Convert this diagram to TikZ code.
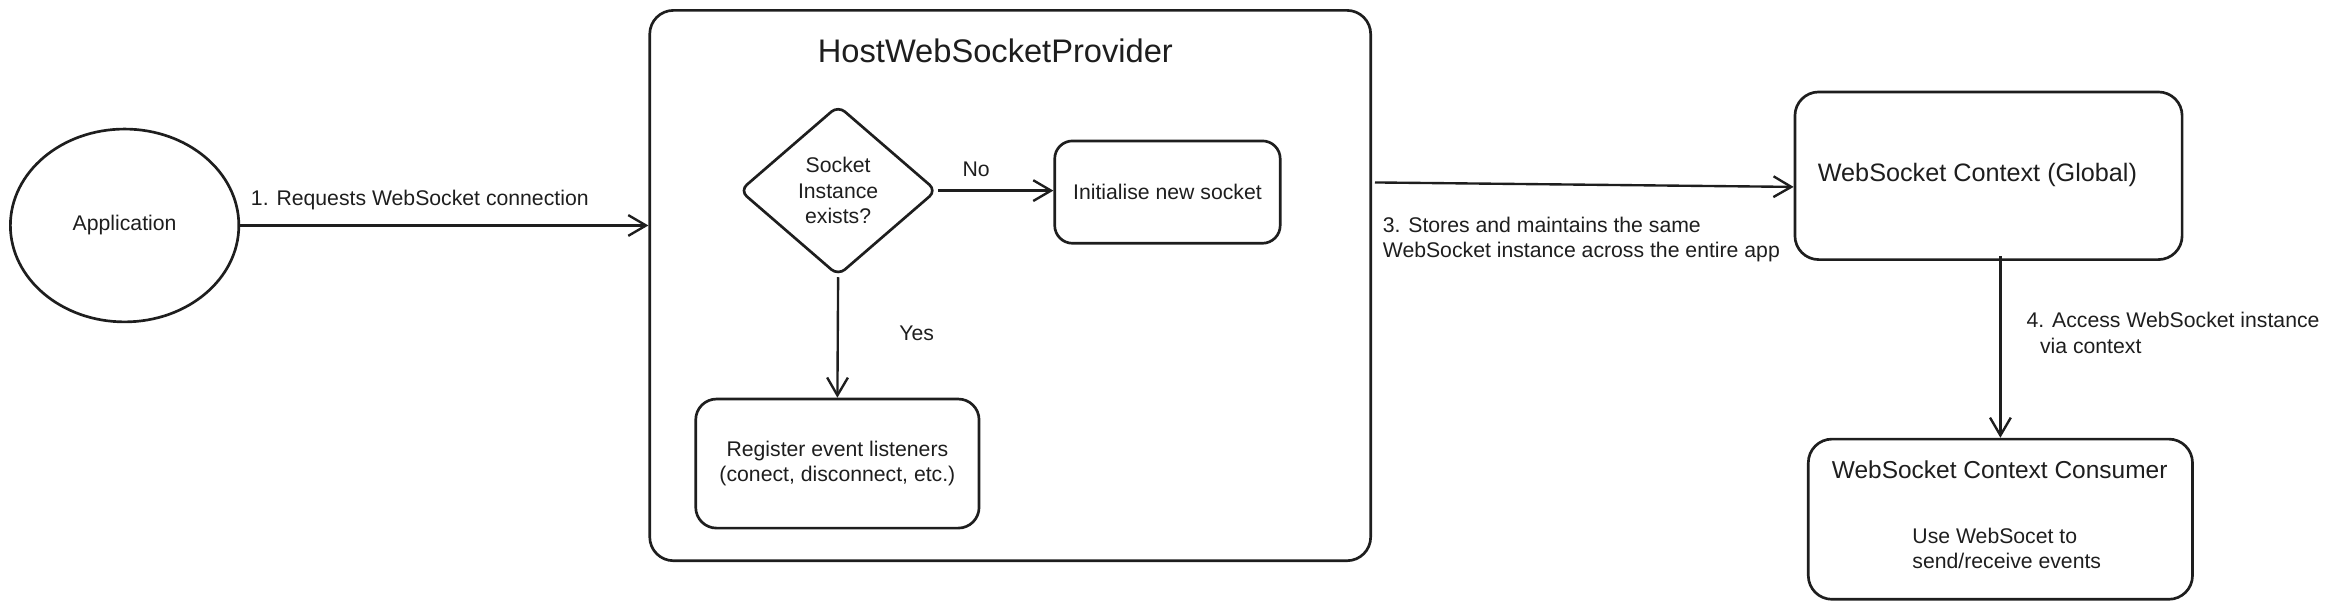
\documentclass[tikz,border=0pt]{standalone}
\usepackage{fontspec}
\setmainfont{Liberation Sans}
\usetikzlibrary{shapes.geometric,arrows.meta}
\definecolor{ink}{HTML}{1E1E1E}
\begin{document}
\begin{tikzpicture}[x=1pt,y=-1pt,
  every node/.style={text=ink,font=\fontsize{14.3}{17}\selectfont},
  box/.style={draw=ink,line width=1.8pt,rounded corners=12pt,inner sep=0pt,align=center},
  lbl/.style={inner sep=0pt},
  arr/.style={draw=ink,line width=1.6pt,-{Straight Barb[length=12pt,width=14pt,line width=1.6pt]}}]
\useasboundingbox (0,0) rectangle (1568,411);
% nodes
\node[draw=ink,line width=1.8pt,ellipse,minimum width=154pt,minimum height=130pt,inner sep=0pt] (app) at (84,152) {Application};
\node[box,rounded corners=16pt,minimum width=486pt,minimum height=371pt] (host) at (681,192.5) {};
\node[lbl,font=\fontsize{22}{25}\selectfont] (hosttitle) at (671,34) {HostWebSocketProvider};
\node[draw=ink,line width=1.8pt,diamond,rounded corners=6pt,minimum width=133pt,minimum height=115pt,inner sep=0pt,align=center] (dia) at (565,128.5) {Socket\\Instance\\exists?};
\node[box,minimum width=152pt,minimum height=69pt] (init) at (787,129.5) {Initialise new socket};
\node[box,rounded corners=14pt,minimum width=191pt,minimum height=87pt] (reg) at (564.5,312.5) {Register event listeners\\(conect, disconnect, etc.)};
\node[box,rounded corners=16pt,minimum width=261pt,minimum height=113pt] (ctx) at (1340.5,118.5) {};
\node[lbl,font=\fontsize{17}{20}\selectfont] (ctxtext) at (1333,118) {WebSocket Context (Global)};
\node[box,rounded corners=16pt,minimum width=259pt,minimum height=108pt] (cons) at (1348.5,350) {};
\node[lbl,font=\fontsize{16.5}{19}\selectfont] (constitle) at (1348,317) {WebSocket Context Consumer};
\node[lbl,anchor=west,align=left] (constext) at (1289,369.5) {Use WebSocet to\\send/receive events};
% labels
\node[lbl] (l1) at (283,135) {1. Requests WebSocket connection};
\node[lbl] (lno) at (658,114) {No};
\node[lbl] (lyes) at (618,225) {Yes};
\node[lbl,anchor=west,align=left] (l3) at (932,161.5) {3. Stores and maintains the same\\WebSocket instance across the entire app};
\node[lbl,anchor=west,align=left] (l4) at (1366,224.5) {4. Access WebSocket instance\\\hspace*{9pt}via context};
% connectors
\draw[arr] (app.east) -- (app.east -| host.west);
\draw[arr] (dia.east) -- (init.west |- dia.east);
\draw[arr] (dia.south) -- (reg.north);
\draw[arr] ([xshift=2pt]host.east |- 0,123) -- (ctx.west |- 0,126);
\draw[arr] ([yshift=3pt]ctx.south -| cons.north) -- (cons.north);
\end{tikzpicture}
\end{document}
